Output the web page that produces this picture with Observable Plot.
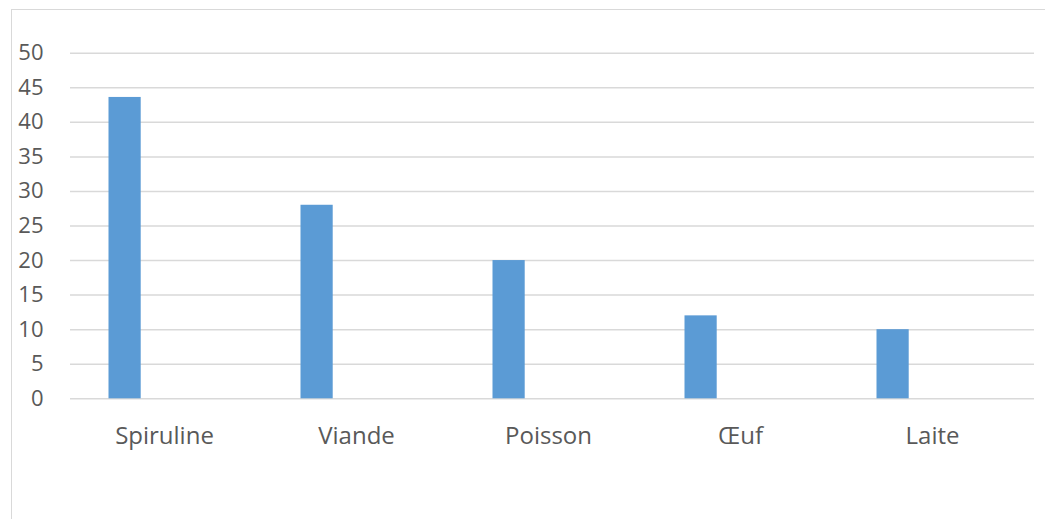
<!DOCTYPE html>
<html>
<head>
<meta charset="utf-8">
<script src="https://cdn.jsdelivr.net/npm/d3@7"></script>
<script src="https://cdn.jsdelivr.net/npm/@observablehq/plot@0.6"></script>
<style>
  html, body { margin: 0; padding: 0; background: #fff; }
  #wrap { position: relative; width: 1045px; height: 519px; overflow: hidden; }
  #border { position: absolute; left: 11px; top: 9px; width: 1100px; height: 600px;
            border-left: 1.5px solid #d9d9d9; border-top: 1.5px solid #d9d9d9; }
  #chart { position: absolute; left: 0; top: 0; }
  #chart svg { font-family: "Open Sans", sans-serif; }
</style>
</head>
<body>
<div id="wrap">
  <div id="border"></div>
  <div id="chart"></div>
</div>
<script>
const categories = ["Spiruline", "Viande", "Poisson", "Œuf", "Laite"];
const values = [43.6, 28, 20, 12, 10];
const yTicks = [0, 5, 10, 15, 20, 25, 30, 35, 40, 45, 50];

const data = categories.map((c, i) => ({category: c, value: values[i]}));

const chart = Plot.plot({
  width: 1045,
  height: 519,
  marginLeft: 70,
  marginRight: 11,
  marginTop: 52.7,
  marginBottom: 120.7,
  x: {domain: categories, padding: 0, label: null},
  y: {domain: [0, 50], ticks: yTicks, label: null},
  marks: [
    Plot.ruleY(yTicks, {stroke: "#d9d9d9", strokeWidth: 1.5}),
    Plot.barY(data, {x: "category", y: "value", fill: "#5b9bd5", insetLeft: 36.5, insetRight: 123.3}),
    Plot.axisY({ticks: yTicks, tickSize: 0, tickPadding: 27, fontSize: 22, fill: "#595959", label: null}),
    Plot.axisX({tickSize: 0, tickPadding: 28, dx: -4, fontSize: 24, fill: "#595959", label: null})
  ]
});
document.getElementById("chart").appendChild(chart);
</script>
</body>
</html>
